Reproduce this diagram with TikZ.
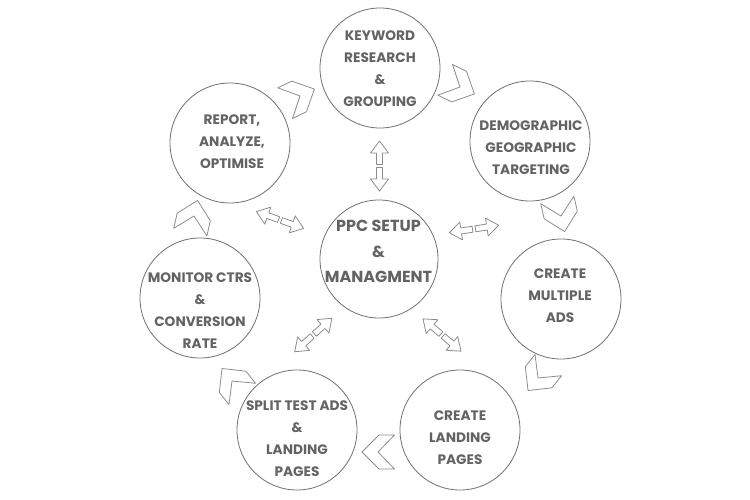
\documentclass[tikz,border=0pt]{standalone}
\usepackage{fontspec}
\setmainfont{Poppins}
\definecolor{txt}{RGB}{99,99,99}
\definecolor{ring}{RGB}{112,112,112}
\definecolor{shp}{RGB}{140,140,140}
\begin{document}
\begin{tikzpicture}[x=1pt,y=-1pt,
  bubble/.style={circle,draw=ring,line width=0.8pt,minimum size=120pt,inner sep=0pt},
  lbl/.style={text=txt,font=\bfseries\fontsize{13.7}{22}\selectfont,align=center,inner sep=0pt},
  biglbl/.style={text=txt,font=\bfseries\fontsize{16}{25.5}\selectfont,align=center,inner sep=0pt},
  shapeline/.style={draw=shp,line width=0.8pt,line join=round},
  chev/.pic={\path[shapeline] (16,0) -- (-1,-17) -- (-16.5,-17) -- (0,0) -- (-16.5,17) -- (-1,17) -- cycle;},
  dblarrow/.pic={\path[shapeline] (1.5,-3) -- (13,-3) -- (13,-9) -- (25,0) -- (13,9) -- (13,3) -- (1.5,3) -- cycle;
     \path[shapeline] (-1.5,-3) -- (-13,-3) -- (-13,-9) -- (-25,0) -- (-13,9) -- (-13,3) -- (-1.5,3) -- cycle;}
]
\useasboundingbox (0,0) rectangle (750,500);
% circles
\node[bubble,minimum size=118pt] (c0) at (379,259) {};
\node[bubble] (c1) at (380,68) {};
\node[bubble] (c2) at (530,141) {};
\node[bubble] (c3) at (561,299) {};
\node[bubble] (c4) at (460,430) {};
\node[bubble] (c5) at (297,430) {};
\node[bubble] (c6) at (200,298) {};
\node[bubble] (c7) at (230,143) {};
% labels
\node[biglbl] (t0) at (378.5,251.5) {PPC SETUP\\\&\\MANAGMENT};
\node[lbl] (t1) at (380,68.3) {KEYWORD\\RESEARCH\\\&\\GROUPING};
\node[lbl] (t2) at (531,148) {DEMOGRAPHIC\\GEOGRAPHIC\\TARGETING};
\node[lbl] (t3) at (560,296) {CREATE\\MULTIPLE\\ADS};
\node[lbl] (t4) at (460,438) {CREATE\\LANDING\\PAGES};
\node[lbl] (t5) at (297,439) {SPLIT TEST ADS\\\&\\LANDING\\PAGES};
\node[lbl] (t6) at (200,310.5) {MONITOR CTRS\\\&\\CONVERSION\\RATE};
\node[lbl] (t7) at (232,141.5) {REPORT,\\ANALYZE,\\OPTIMISE};
% chevrons (clockwise cycle)
\pic[rotate=25.7] (k71) at (300,96) {chev};
\pic[rotate=-25.7] (k12) at (460,87) {chev};
\pic[rotate=-77.1] (k23) at (561,216) {chev};
\pic[rotate=-128.6] (k34) at (538,378) {chev};
\pic[rotate=180] (k45) at (378,452) {chev};
\pic[rotate=128.6] (k56) at (232,381) {chev};
\pic[rotate=77.1] (k67) at (194,216) {chev};
% double arrows from the hub
\pic[rotate=90] (a1) at (379.5,166) {dblarrow};
\pic[rotate=-19.6] (a7) at (280,220) {dblarrow};
\pic[rotate=8.6] (a2) at (474,229) {dblarrow};
\pic[rotate=42] (a5) at (313.3,335) {dblarrow};
\pic[rotate=-40.3] (a4) at (442,335) {dblarrow};
\end{tikzpicture}
\end{document}
